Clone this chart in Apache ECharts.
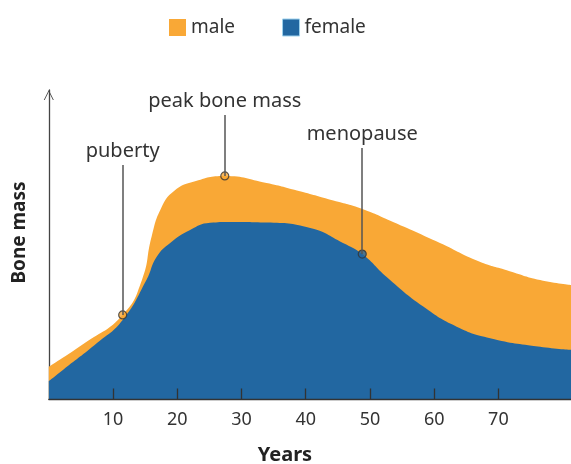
<!DOCTYPE html>
<html><head><meta charset="utf-8">
<script src="https://cdn.jsdelivr.net/npm/echarts@6/dist/echarts.min.js"></script>
<style>html,body{margin:0;padding:0;background:#fff}#c{width:571px;height:464px}</style>
</head><body><div id="c"></div>
<script>
// age (years), bone mass (relative units)
const maleData = [[0,10.4],[5.6,18.1],[11.5,27.2],[14.5,38.5],[16.0,52.5],[17.5,61.8],[19.5,67.3],[22.5,70.3],[27.4,72.2],[33.9,69.9],[39.1,67.2],[44.3,64.2],[48.8,61.5],[53.6,57.3],[60.9,50.5],[67.0,44.5],[71.3,41.7],[76.5,38.5],[81.3,36.9]];
const femaleData = [[0,5.8],[2.2,9.4],[7.5,18.1],[11.5,25.6],[15.2,38.5],[16.8,46.0],[18.9,50.5],[22.0,54.7],[25.1,57.0],[28.2,57.3],[33.9,57.1],[40.7,55.3],[45.8,50.5],[48.8,46.9],[52.6,39.5],[58.3,29.9],[63.5,23.4],[68.7,19.7],[76.5,16.9],[81.3,15.9]];
const xTicks = [10,20,30,40,50,60,70];
const annotNames = ['puberty','peak bone mass','menopause'];
const annotX = [11.5,27.4,48.8];
const annotY = [27.2,72.2,46.9];
const annotTop = [75.7,91.9,81.2];
const annotSeries = ['male','male','female'];

const ORANGE = '#F9A836', BLUE = '#2267A1';
const FONT = 'Noto Sans';
const TICK_LEN = 3.4; // tick height in y-units (~10px)
const chart = echarts.init(document.getElementById('c'));
chart.setOption({
  animation:false,
  textStyle:{fontFamily:FONT},
  legend:{top:13,left:164,itemWidth:17,itemHeight:17,itemGap:47,icon:'rect',
    textStyle:{fontSize:19,color:'#333',fontFamily:FONT},
    data:[{name:'male'},{name:'female',itemStyle:{borderColor:'#9fd3ee',borderWidth:1}}]},
  grid:{left:48.8,right:0,top:90,bottom:65,outerBoundsMode:'none',containLabel:false},
  xAxis:{type:'value',min:0,max:81.3,z:5,
    name:'Years',nameLocation:'middle',nameGap:46,
    nameTextStyle:{fontSize:20,fontWeight:'bold',color:'#222',padding:[0,50,0,0]},
    axisLine:{show:true,lineStyle:{color:'#333',width:1.3}},
    axisTick:{show:false},
    axisLabel:{customValues:xTicks,fontSize:18,color:'#333',margin:12},
    splitLine:{show:false}},
  yAxis:{type:'value',min:0,max:100,
    name:'Bone mass',nameLocation:'middle',nameGap:20,
    nameTextStyle:{fontSize:19,fontWeight:'bold',color:'#222',padding:[0,0,0,24]},
    axisLine:{show:true,lineStyle:{color:'#444',width:1.3},
      symbol:['none','path://M0,10 L5,0 L10,10 L9.1,10 L5,1.8 L0.9,10 Z'],symbolSize:[19,10],symbolOffset:[0,-5]},
    axisTick:{show:false},axisLabel:{show:false},splitLine:{show:false}},
  series:[
    {name:'male',type:'line',data:maleData,smooth:0.5,showSymbol:false,z:2,
      lineStyle:{width:0},itemStyle:{color:ORANGE},areaStyle:{color:ORANGE,opacity:1}},
    {name:'female',type:'line',data:femaleData,smooth:0.5,showSymbol:false,z:2,
      lineStyle:{width:0},itemStyle:{color:BLUE},areaStyle:{color:BLUE,opacity:1}},
    {name:'ticks',type:'line',data:[],z:3,silent:true,
      markLine:{symbol:'none',silent:true,animation:false,
        lineStyle:{color:'#333',width:1.3,type:'solid'},label:{show:false},
        data:xTicks.map(v=>[{coord:[v,0]},{coord:[v,TICK_LEN]}])}},
    {name:'annotLines',type:'line',data:[],z:3,silent:true,
      markLine:{symbol:'none',silent:true,animation:false,
        lineStyle:{color:'#555',width:1.5,type:'solid'},
        label:{show:true,position:'end',distance:4,formatter:p=>p.name,fontSize:20,color:'#333',fontFamily:FONT},
        data:annotNames.map((n,i)=>[{coord:[annotX[i],annotY[i]]},{coord:[annotX[i],annotTop[i]],name:n}])}},
    {name:'annotPoints',type:'scatter',z:4,symbolSize:8,silent:true,
      data:annotNames.map((n,i)=>({value:[annotX[i],annotY[i]],itemStyle:{color:annotSeries[i]==='male'?ORANGE:BLUE,borderColor:'#333',borderWidth:1.2}}))}
  ]
});
</script></body></html>
